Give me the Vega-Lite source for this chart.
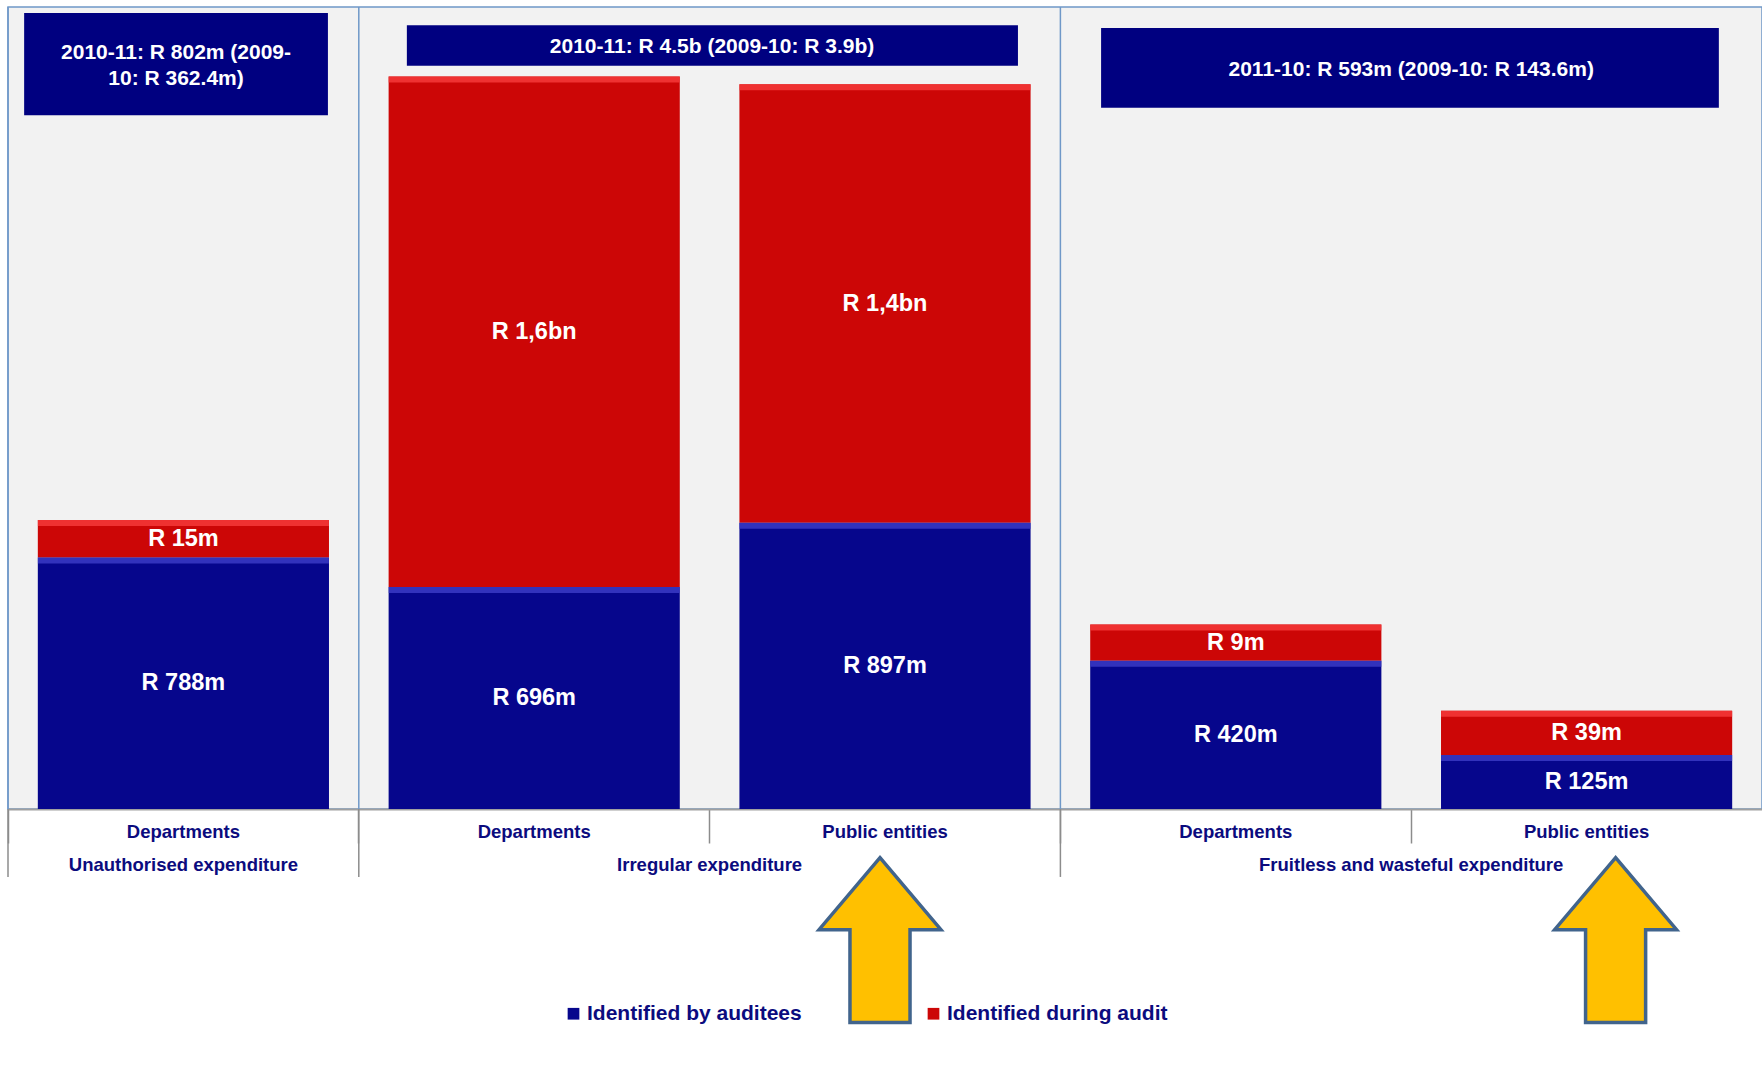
{
  "$schema": "https://vega.github.io/schema/vega-lite/v6.json",
  "width": 1754,
  "height": 802,
  "autosize": {"type": "none"},
  "padding": {"left": 8, "top": 7, "right": 0, "bottom": 258},
  "background": "white",
  "config": {
    "view": {"fill": "#f2f2f2", "stroke": "#6f98c8", "strokeWidth": 1.5},
    "font": "Liberation Sans",
    "axisY": {"disable": true}
  },
  "datasets": {
    "bars": [
      {"expenditure": "Unauthorised expenditure", "auditee": "Departments", "key": "Unauthorised expenditure|Departments", "source": "Identified by auditees", "amount": 788, "label": "R 788m"},
      {"expenditure": "Unauthorised expenditure", "auditee": "Departments", "key": "Unauthorised expenditure|Departments", "source": "Identified during audit", "amount": 118, "label": "R 15m"},
      {"expenditure": "Irregular expenditure", "auditee": "Departments", "key": "Irregular expenditure|Departments", "source": "Identified by auditees", "amount": 696, "label": "R 696m"},
      {"expenditure": "Irregular expenditure", "auditee": "Departments", "key": "Irregular expenditure|Departments", "source": "Identified during audit", "amount": 1600, "label": "R 1,6bn"},
      {"expenditure": "Irregular expenditure", "auditee": "Public entities", "key": "Irregular expenditure|Public entities", "source": "Identified by auditees", "amount": 897, "label": "R 897m"},
      {"expenditure": "Irregular expenditure", "auditee": "Public entities", "key": "Irregular expenditure|Public entities", "source": "Identified during audit", "amount": 1375, "label": "R 1,4bn"},
      {"expenditure": "Fruitless and wasteful expenditure", "auditee": "Departments", "key": "Fruitless and wasteful expenditure|Departments", "source": "Identified by auditees", "amount": 465, "label": "R 420m"},
      {"expenditure": "Fruitless and wasteful expenditure", "auditee": "Departments", "key": "Fruitless and wasteful expenditure|Departments", "source": "Identified during audit", "amount": 113, "label": "R 9m"},
      {"expenditure": "Fruitless and wasteful expenditure", "auditee": "Public entities", "key": "Fruitless and wasteful expenditure|Public entities", "source": "Identified by auditees", "amount": 169, "label": "R 125m"},
      {"expenditure": "Fruitless and wasteful expenditure", "auditee": "Public entities", "key": "Fruitless and wasteful expenditure|Public entities", "source": "Identified during audit", "amount": 139, "label": "R 39m"}
    ]
  },
  "data": {"name": "bars"},
  "layer": [
    {
      "mark": {"type": "bar", "width": {"band": 0.83}},
      "encoding": {
        "x": {
          "field": "key", "type": "nominal", "title": null,
          "scale": {"domain": ["Unauthorised expenditure|Departments", "Irregular expenditure|Departments", "Irregular expenditure|Public entities", "Fruitless and wasteful expenditure|Departments", "Fruitless and wasteful expenditure|Public entities"], "paddingInner": 0, "paddingOuter": 0},
          "axis": {
            "title": null, "labelExpr": "split(datum.label, '|')[1]", "labelAngle": 0,
            "labelFont": "Liberation Sans", "labelFontSize": 18.5, "labelFontWeight": "bold", "labelColor": "#0b0b7e",
            "labelBaseline": "middle", "labelPadding": -11.5, "labelLimit": 400,
            "domainColor": "#a0a0a0", "domainWidth": 2,
            "tickColor": "#8c8c8c", "tickWidth": 1.5, "tickSize": 34, "bandPosition": 0, "grid": false
          }
        },
        "y": {"field": "amount", "type": "quantitative", "stack": "zero", "title": null, "scale": {"domain": [0, 2514], "nice": false, "zero": true}},
        "color": {
          "field": "source", "type": "nominal",
          "scale": {"domain": ["Identified by auditees", "Identified during audit"], "range": ["#06068c", "#cc0606"]},
          "legend": {
            "orient": "none", "legendX": 555, "legendY": 996, "direction": "horizontal", "title": null,
            "symbolType": "square", "symbolSize": 137, "symbolStrokeWidth": 0,
            "labelFont": "Liberation Sans", "labelFontSize": 21, "labelFontWeight": "bold", "labelColor": "#0b0b7e",
            "labelOffset": 3, "columnPadding": 121, "labelLimit": 400, "padding": 0
          }
        },
        "order": {"field": "source", "sort": "ascending"}
      }
    },
    {
      "mark": {"type": "tick", "size": 291, "thickness": 6, "yOffset": 3, "opacity": 0.85},
      "encoding": {
        "x": {"field": "key", "type": "nominal", "title": null},
        "y": {"field": "amount", "type": "quantitative", "stack": "zero", "title": null},
        "color": {"condition": {"test": "datum.source == 'Identified by auditees'", "value": "#3b3bc4"}, "value": "#f53a3a"},
        "order": {"field": "source", "sort": "ascending"}
      }
    },
    {
      "mark": {"type": "text", "color": "white", "font": "Liberation Sans", "fontWeight": "bold", "fontSize": 23.5, "baseline": "middle"},
      "encoding": {
        "x": {"field": "key", "type": "nominal", "title": null},
        "y": {"field": "amount", "type": "quantitative", "stack": "zero", "bandPosition": 0.5, "title": null},
        "text": {"field": "label"},
        "order": {"field": "source", "sort": "ascending"}
      }
    },
    {
      "transform": [{"filter": "datum.auditee == 'Departments' && datum.source == 'Identified by auditees'"}],
      "mark": {"type": "rule", "color": "#6f98c8", "strokeWidth": 1.5},
      "encoding": {
        "x": {"field": "key", "type": "nominal", "bandPosition": 0, "title": null},
        "y": {"datum": 0, "type": "quantitative", "title": null},
        "y2": {"datum": 2514}
      }
    },
    {
      "transform": [{"filter": "datum.auditee == 'Departments' && datum.source == 'Identified by auditees'"}],
      "mark": {"type": "rule", "color": "#8c8c8c", "strokeWidth": 1.5},
      "encoding": {
        "x": {"field": "key", "type": "nominal", "bandPosition": 0, "title": null},
        "y": {"datum": 0, "type": "quantitative", "title": null},
        "y2": {"datum": -213}
      }
    },
    {
      "transform": [{"filter": "datum.auditee == 'Public entities' && datum.source == 'Identified by auditees'"}],
      "mark": {"type": "text", "color": "#0b0b7e", "font": "Liberation Sans", "fontWeight": "bold", "fontSize": 18.5, "baseline": "middle"},
      "encoding": {
        "x": {"field": "key", "type": "nominal", "bandPosition": 0, "title": null},
        "y": {"datum": -174.5, "type": "quantitative", "title": null},
        "text": {"field": "expenditure"}
      }
    },
    {
      "transform": [{"filter": "datum.expenditure == 'Unauthorised expenditure' && datum.source == 'Identified by auditees'"}],
      "mark": {"type": "text", "color": "#0b0b7e", "font": "Liberation Sans", "fontWeight": "bold", "fontSize": 18.5, "baseline": "middle"},
      "encoding": {
        "x": {"field": "key", "type": "nominal", "title": null},
        "y": {"datum": -174.5, "type": "quantitative", "title": null},
        "text": {"field": "expenditure"}
      }
    },
    {
      "transform": [{"filter": "datum.key == 'Irregular expenditure|Public entities' && datum.source == 'Identified by auditees'"}],
      "mark": {"type": "point", "shape": "M0,-1L0.739,-0.127L0.364,-0.127L0.364,1L-0.364,1L-0.364,-0.127L-0.739,-0.127Z", "size": 27225, "filled": true, "fill": "#ffc000", "stroke": "#41648c", "strokeWidth": 3.5, "opacity": 1, "xOffset": -5},
      "encoding": {
        "x": {"field": "key", "type": "nominal", "title": null},
        "y": {"datum": -411, "type": "quantitative", "title": null}
      }
    },
    {
      "transform": [{"filter": "datum.key == 'Fruitless and wasteful expenditure|Public entities' && datum.source == 'Identified by auditees'"}],
      "mark": {"type": "point", "shape": "M0,-1L0.739,-0.127L0.364,-0.127L0.364,1L-0.364,1L-0.364,-0.127L-0.739,-0.127Z", "size": 27225, "filled": true, "fill": "#ffc000", "stroke": "#41648c", "strokeWidth": 3.5, "opacity": 1, "xOffset": 29},
      "encoding": {
        "x": {"field": "key", "type": "nominal", "title": null},
        "y": {"datum": -411, "type": "quantitative", "title": null}
      }
    },
    {
      "data": {"values": [{"expenditure": "Unauthorised expenditure", "summary": "2010-11: R 802m (2009-\n10: R 362.4m)"}]},
      "layer": [
        {
          "mark": {"type": "rect", "color": "#000080"},
          "encoding": {
            "x": {"datum": "Unauthorised expenditure|Departments", "type": "nominal", "bandPosition": 0.046, "title": null},
            "x2": {"datum": "Unauthorised expenditure|Departments", "bandPosition": 0.912},
            "y": {"datum": 2495, "type": "quantitative", "title": null},
            "y2": {"datum": 2175}
          }
        },
        {
          "mark": {"type": "text", "color": "white", "font": "Liberation Sans", "fontWeight": "bold", "fontSize": 21, "lineHeight": 26, "lineBreak": "\n", "baseline": "middle"},
          "encoding": {
            "x": {"datum": "Unauthorised expenditure|Departments", "type": "nominal", "bandPosition": 0.479, "title": null},
            "y": {"datum": 2370, "type": "quantitative", "title": null},
            "text": {"field": "summary"}
          }
        }
      ]
    },
    {
      "data": {"values": [{"expenditure": "Irregular expenditure", "summary": "2010-11: R 4.5b (2009-10: R 3.9b)"}]},
      "layer": [
        {
          "mark": {"type": "rect", "color": "#000080"},
          "encoding": {
            "x": {"datum": "Irregular expenditure|Departments", "type": "nominal", "bandPosition": 0.137, "title": null},
            "x2": {"datum": "Irregular expenditure|Public entities", "bandPosition": 0.879},
            "y": {"datum": 2457, "type": "quantitative", "title": null},
            "y2": {"datum": 2330}
          }
        },
        {
          "mark": {"type": "text", "color": "white", "font": "Liberation Sans", "fontWeight": "bold", "fontSize": 21, "baseline": "middle"},
          "encoding": {
            "x": {"datum": "Irregular expenditure|Public entities", "type": "nominal", "bandPosition": 0.007, "title": null},
            "y": {"datum": 2390, "type": "quantitative", "title": null},
            "text": {"field": "summary"}
          }
        }
      ]
    },
    {
      "data": {"values": [{"expenditure": "Fruitless and wasteful expenditure", "summary": "2011-10: R 593m (2009-10: R 143.6m)"}]},
      "layer": [
        {
          "mark": {"type": "rect", "color": "#000080"},
          "encoding": {
            "x": {"datum": "Fruitless and wasteful expenditure|Departments", "type": "nominal", "bandPosition": 0.116, "title": null},
            "x2": {"datum": "Fruitless and wasteful expenditure|Public entities", "bandPosition": 0.877},
            "y": {"datum": 2448, "type": "quantitative", "title": null},
            "y2": {"datum": 2198}
          }
        },
        {
          "mark": {"type": "text", "color": "white", "font": "Liberation Sans", "fontWeight": "bold", "fontSize": 21, "baseline": "middle"},
          "encoding": {
            "x": {"datum": "Fruitless and wasteful expenditure|Public entities", "type": "nominal", "bandPosition": 0, "title": null},
            "y": {"datum": 2316, "type": "quantitative", "title": null},
            "text": {"field": "summary"}
          }
        }
      ]
    }
  ]
}
